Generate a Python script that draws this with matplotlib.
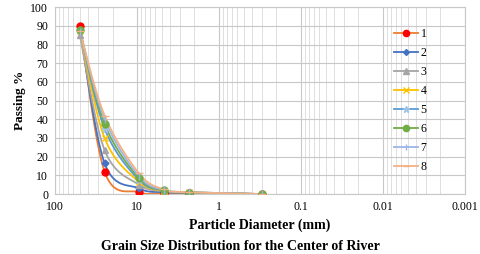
import numpy as np
import matplotlib
matplotlib.use('Agg')
import matplotlib.pyplot as plt
from matplotlib.ticker import LogLocator, NullFormatter, FixedLocator, FixedFormatter

# sieve sizes (mm)
sizes = [50, 25, 9.5, 4.75, 2.36, 0.3]

# percent passing for each sample
s1 = [90, 12, 1, 0.5, 0.3, 0]
s2 = [88, 16.5, 3, 1, 0.7, 0]
s3 = [85, 23.5, 5, 1.5, 0.8, 0]
s4 = [87, 30, 6.5, 1.8, 1, 0]
s5 = [87.5, 35, 7.5, 2, 1, 0]
s6 = [88, 37.5, 8.5, 2, 0.8, 0]
s7 = [86.5, 40, 9.5, 2.2, 1, 0]
s8 = [87, 42, 11, 2.5, 1, 0]
series = [s1, s2, s3, s4, s5, s6, s7, s8]
names = ['1', '2', '3', '4', '5', '6', '7', '8']

line_colors = ['#ED7D31', '#4472C4', '#A5A5A5', '#FFC000', '#5B9BD5', '#70AD47', '#9DB4E8', '#F4B183']
mark_colors = ['#FF0000', '#4472C4', '#A5A5A5', '#FFC000', '#9DC3E6', '#70AD47', '#9DB4E8', '#F4B183']
markers = ['o', 'D', '^', 'x', '*', 'o', '|', '_']
msizes = [5, 3.5, 5, 5, 5, 5, 6, 6]
leg_msizes = [4.5, 3, 4.5, 4.5, 4.5, 4.5, 5, 5]


def smooth(xs, ys, n=30):
    # Excel-like smoothed line: cubic bezier through points in log-x space
    lx = np.log10(xs)
    ys = np.asarray(ys, float)
    P = np.column_stack([lx, ys])
    out = []
    for i in range(len(P) - 1):
        p0 = P[i - 1] if i > 0 else P[i]
        p1 = P[i]
        p2 = P[i + 1]
        p3 = P[i + 2] if i + 2 < len(P) else P[i + 1]
        c1 = p1 + (p2 - p0) / 6
        c2 = p2 - (p3 - p1) / 6
        t = np.linspace(0, 1, n)[:, None]
        seg = ((1 - t) ** 3) * p1 + 3 * ((1 - t) ** 2) * t * c1 + 3 * (1 - t) * t ** 2 * c2 + t ** 3 * p2
        out.append(seg)
    seg = np.vstack(out)
    return 10 ** seg[:, 0], seg[:, 1]


plt.rcParams['font.family'] = 'Liberation Serif'

fig = plt.figure(figsize=(4.8, 2.54), dpi=100)
ax = fig.add_axes([0.115, 0.236, 0.854, 0.736])

for i, s in enumerate(series):
    sx, sy = smooth(sizes, s)
    ax.plot(sx, sy, color=line_colors[i], lw=1.3, zorder=3)
    ax.plot(sizes, s, linestyle='none', marker=markers[i], color=mark_colors[i],
            markersize=msizes[i], markeredgewidth=1, zorder=4)
    ax.plot([], [], color=line_colors[i], lw=1.3, marker=markers[i],
            markerfacecolor=mark_colors[i], markeredgecolor=mark_colors[i],
            markersize=leg_msizes[i], label=names[i])

ax.set_xscale('log')
ax.set_xlim(100, 0.001)
ax.set_ylim(0, 100)
ax.set_yticks(np.arange(0, 101, 10))
ax.xaxis.set_major_locator(FixedLocator([100, 10, 1, 0.1, 0.01, 0.001]))
ax.xaxis.set_major_formatter(FixedFormatter(['100', '10', '1', '0.1', '0.01', '0.001']))
ax.xaxis.set_minor_locator(LogLocator(base=10, subs=np.arange(2, 10)))
ax.xaxis.set_minor_formatter(NullFormatter())

ax.grid(True, which='major', color='#C8C8C8', lw=0.8)
ax.grid(True, which='minor', axis='x', color='#D9D9D9', lw=0.6)
ax.set_axisbelow(True)
for sp in ax.spines.values():
    sp.set_color('#C8C8C8')
ax.tick_params(which='both', length=0, labelsize=8.5, pad=5)

ax.set_ylabel('Passing %', fontsize=9.5, fontweight='bold', labelpad=3)
ax.set_xlabel('Particle Diameter (mm)', fontsize=10, fontweight='bold', labelpad=4)

leg = ax.legend(loc='upper left', bbox_to_anchor=(0.815, 0.915), frameon=False,
                fontsize=8.5, handlelength=2.0, labelspacing=0.6, handletextpad=0.25,
                borderaxespad=0)

fig.text(0.5, 0.028, 'Grain Size Distribution for the Center of River',
         ha='center', va='center', fontsize=10, fontweight='bold')

fig.savefig('out.png', dpi=100)
